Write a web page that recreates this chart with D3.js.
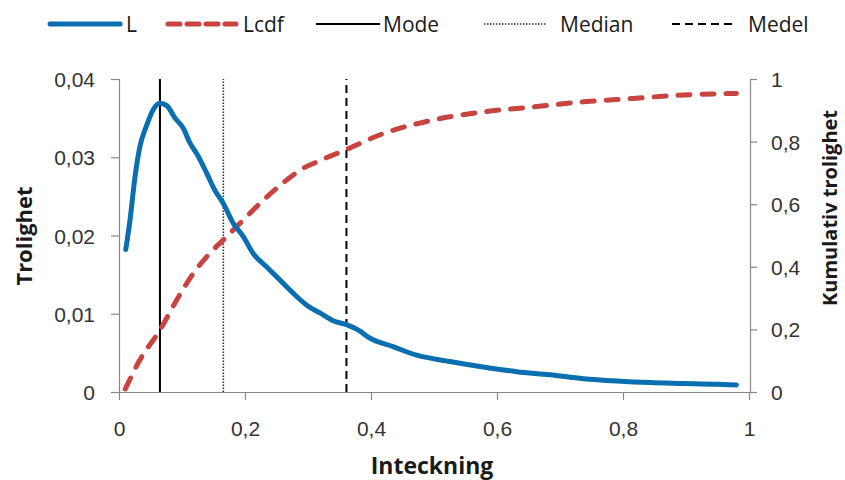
<!DOCTYPE html>
<html>
<head>
<meta charset="utf-8">
<script src="https://cdn.jsdelivr.net/npm/d3@7"></script>
<style>
  html, body { margin: 0; padding: 0; background: #fff; }
  svg { display: block; font-family: "Open Sans", "Liberation Sans", sans-serif; }
</style>
</head>
<body>
<svg id="chart" width="845" height="480"></svg>
<script>
// Inteckning (x) for the likelihood curve L
const lX = [0.0107, 0.0175, 0.0254, 0.0333, 0.044, 0.0545, 0.065, 0.0757, 0.089, 0.102,
            0.1127, 0.123, 0.139, 0.152, 0.1656, 0.181, 0.197, 0.213, 0.234, 0.2556,
            0.2767, 0.298, 0.319, 0.340, 0.361, 0.380, 0.398, 0.435, 0.4725, 0.525,
            0.578, 0.631, 0.684, 0.737, 0.79, 0.843, 0.896, 0.949, 0.98];
// Trolighet values for L
const lY = [0.0182, 0.0220, 0.0275, 0.0314, 0.0341, 0.0361, 0.0369, 0.0366, 0.0350, 0.0337,
            0.0318, 0.0305, 0.0280, 0.0258, 0.0241, 0.0216, 0.0199, 0.0177, 0.0160, 0.0143,
            0.0126, 0.0111, 0.0101, 0.0091, 0.0086, 0.0079, 0.0069, 0.0058, 0.0047, 0.0039,
            0.0032, 0.0026, 0.0022, 0.0017, 0.0014, 0.0012, 0.0011, 0.0010, 0.0009];

// Inteckning (x) for the cumulative curve Lcdf
const cdfX = [0.01, 0.033, 0.065, 0.0916, 0.118, 0.144, 0.1656, 0.192, 0.224, 0.266,
              0.29, 0.314, 0.361, 0.42, 0.499, 0.578, 0.658, 0.737, 0.816, 0.896, 0.98];
// Kumulativ trolighet values for Lcdf
const cdfY = [0.01, 0.102, 0.198, 0.294, 0.379, 0.443, 0.486, 0.539, 0.603, 0.677,
              0.712, 0.735, 0.775, 0.826, 0.869, 0.895, 0.911, 0.927, 0.938, 0.949, 0.954];

// Reference lines: Mode, Median, Medel
const refNames = ["Mode", "Median", "Medel"];
const refValues = [0.065, 0.1656, 0.361];

// Tick values
const xTicks = [0, 0.2, 0.4, 0.6, 0.8, 1];
const yLeftTicks = [0, 0.01, 0.02, 0.03, 0.04];
const yRightTicks = [0, 0.2, 0.4, 0.6, 0.8, 1];

// Legend entries
const legendLabels = ["L", "Lcdf", "Mode", "Median", "Medel"];

// Swedish number formatting (decimal comma)
const sv = d3.formatLocale({ decimal: ",", thousands: " ", grouping: [3], currency: ["", " kr"] });
const fmt = sv.format(".2~f");

const svg = d3.select("#chart");
const plot = { left: 119, right: 750, top: 79, bottom: 392 };

const x = d3.scaleLinear().domain([0, 1]).range([plot.left, plot.right - 1]);
const yL = d3.scaleLinear().domain([0, 0.04]).range([plot.bottom, plot.top]);
const yR = d3.scaleLinear().domain([0, 1]).range([plot.bottom, plot.top]);

const axisColor = "#888888";
const tickText = "#333333";
const blue = "#0a6fb0";
const red = "#c8443f";

// Axes
function styleAxis(g) {
  g.select(".domain").attr("stroke", axisColor).attr("stroke-width", 1.2);
  g.selectAll(".tick line").attr("stroke", axisColor).attr("stroke-width", 1.2);
  g.selectAll(".tick text").attr("fill", tickText).attr("font-size", 21);
}

svg.append("g")
  .attr("transform", `translate(0,${plot.bottom})`)
  .call(d3.axisBottom(x).tickValues(xTicks).tickFormat(fmt).tickSize(8).tickSizeOuter(0).tickPadding(19))
  .call(g => { styleAxis(g); g.selectAll(".tick text").attr("dy", "0.82em"); });

svg.append("g")
  .attr("transform", `translate(${plot.left},0)`)
  .call(d3.axisLeft(yL).tickValues(yLeftTicks).tickFormat(fmt).tickSize(8).tickSizeOuter(8).tickPadding(16))
  .call(g => { styleAxis(g); g.selectAll(".tick text").attr("dy", "0.36em"); });

svg.append("g")
  .attr("transform", `translate(${plot.right},0)`)
  .call(d3.axisRight(yR).tickValues(yRightTicks).tickFormat(fmt).tickSize(7).tickSizeOuter(7).tickPadding(14))
  .call(g => { styleAxis(g); g.selectAll(".tick text").attr("dy", "0.36em"); });

// Axis titles
svg.append("text")
  .attr("x", 432).attr("y", 474)
  .attr("text-anchor", "middle")
  .attr("font-size", 23).attr("font-weight", "bold").attr("fill", "#1a1a1a")
  .text("Inteckning");

svg.append("text")
  .attr("transform", "translate(32,236) rotate(-90)")
  .attr("text-anchor", "middle")
  .attr("font-size", 22).attr("font-weight", "bold").attr("fill", "#1a1a1a")
  .text("Trolighet");

svg.append("text")
  .attr("transform", "translate(837,208) rotate(-90)")
  .attr("text-anchor", "middle")
  .attr("font-size", 20).attr("font-weight", "bold").attr("fill", "#1a1a1a")
  .text("Kumulativ trolighet");

// Reference line styles
const refStyles = [
  { stroke: "#000", width: 2, dash: null },
  { stroke: "#333", width: 1.6, dash: "1.5,1.5" },
  { stroke: "#000", width: 2, dash: "8,5" }
];

svg.append("g").selectAll("line")
  .data(refValues)
  .join("line")
  .attr("x1", d => x(d)).attr("x2", d => x(d))
  .attr("y1", yL(0)).attr("y2", yL(0.04))
  .attr("stroke", (d, i) => refStyles[i].stroke)
  .attr("stroke-width", (d, i) => refStyles[i].width)
  .attr("stroke-dasharray", (d, i) => refStyles[i].dash);

// Lcdf curve (right axis)
const cdfLine = d3.line()
  .x(i => x(cdfX[i]))
  .y(i => yR(cdfY[i]))
  .curve(d3.curveMonotoneX);

svg.append("path")
  .attr("d", cdfLine(d3.range(cdfX.length)))
  .attr("fill", "none")
  .attr("stroke", red)
  .attr("stroke-width", 5)
  .attr("stroke-linecap", "round")
  .attr("stroke-dasharray", "12,12");

// L curve (left axis)
const lLine = d3.line()
  .x(i => x(lX[i]))
  .y(i => yL(lY[i]))
  .curve(d3.curveMonotoneX);

svg.append("path")
  .attr("d", lLine(d3.range(lX.length)))
  .attr("fill", "none")
  .attr("stroke", blue)
  .attr("stroke-width", 5)
  .attr("stroke-linecap", "round")
  .attr("stroke-linejoin", "round");

// Legend
const legendStyles = [
  { stroke: blue, width: 5, dash: null, cap: "round", x0: 50, x1: 120, tx: 126 },
  { stroke: red, width: 5, dash: "12,7", cap: "round", x0: 168, x1: 236, tx: 243 },
  { stroke: "#000", width: 2, dash: null, cap: "butt", x0: 316, x1: 380, tx: 383 },
  { stroke: "#333", width: 1.6, dash: "1.5,1.5", cap: "butt", x0: 484, x1: 547, tx: 560 },
  { stroke: "#000", width: 2, dash: "8,5", cap: "butt", x0: 672, x1: 733, tx: 748 }
];

const legend = svg.append("g");
const items = legend.selectAll("g")
  .data(legendLabels)
  .join("g");

items.append("line")
  .attr("x1", (d, i) => legendStyles[i].x0)
  .attr("x2", (d, i) => legendStyles[i].x1)
  .attr("y1", 24).attr("y2", 24)
  .attr("stroke", (d, i) => legendStyles[i].stroke)
  .attr("stroke-width", (d, i) => legendStyles[i].width)
  .attr("stroke-dasharray", (d, i) => legendStyles[i].dash)
  .attr("stroke-linecap", (d, i) => legendStyles[i].cap);

items.append("text")
  .attr("x", (d, i) => legendStyles[i].tx)
  .attr("y", 32)
  .attr("font-size", 21)
  .attr("fill", "#1a1a1a")
  .text(d => d);
</script>
</body>
</html>
